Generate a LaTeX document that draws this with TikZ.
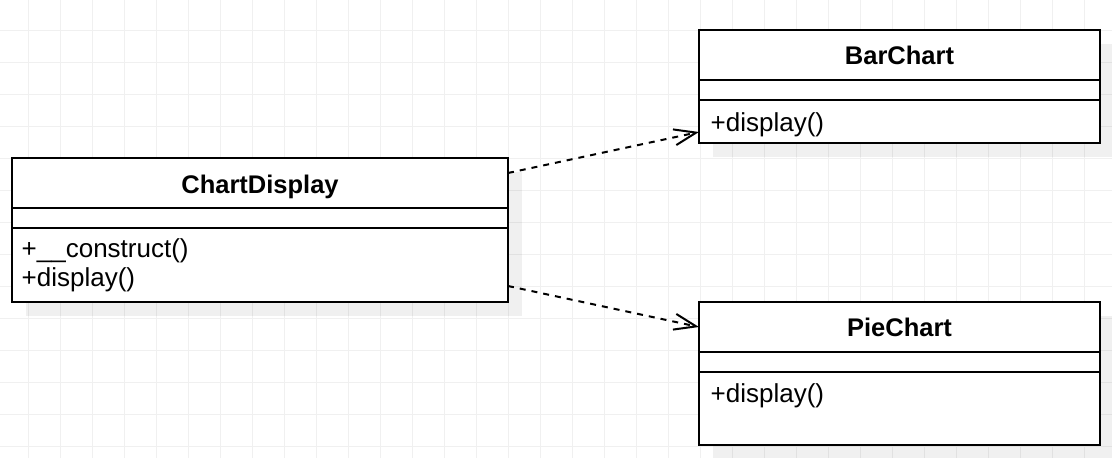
\documentclass[tikz,border=0pt]{standalone}
\usepackage{fontspec}
\setmainfont{Liberation Sans}
\usetikzlibrary{arrows.meta,shadows,calc}
\begin{document}
\begin{tikzpicture}[x=1pt,y=-1pt,
  gridline/.style={draw=black!6, line width=1pt},
  classbox/.style={draw=black, line width=2pt, fill=white, inner sep=0pt, outer sep=0pt, rectangle, anchor=north west,
    drop shadow={shadow xshift=14pt, shadow yshift=-14pt, fill=black, opacity=0.06}},
  sepline/.style={draw=black, line width=2pt},
  dep/.style={draw=black, line width=2pt, dash pattern=on 6pt off 6pt,
    -{Straight Barb[length=22pt,width=16pt,line width=2pt]}},
  title/.style={font=\fontsize{25.5}{30}\selectfont\bfseries, anchor=base, inner sep=0pt},
  member/.style={font=\fontsize{26}{30}\selectfont, anchor=base west, inner sep=0pt}
]
\useasboundingbox (0,0) rectangle (1112,458);
\fill[white] (0,0) rectangle (1112,458);
% grid
\foreach \gx in {0,...,33} \draw[gridline] (28.5+32*\gx,0) -- (28.5+32*\gx,458);
\foreach \gy in {0,...,13} \draw[gridline] (0,30.5+32*\gy) -- (1112,30.5+32*\gy);

% ChartDisplay
\node[classbox, minimum width=496pt, minimum height=144pt] (cd) at (12,158) {};
\draw[sepline] ($(cd.north west)+(0,50)$) -- ($(cd.north east)+(0,50)$);
\draw[sepline] ($(cd.north west)+(0,70)$) -- ($(cd.north east)+(0,70)$);
\node[title] (cdT) at (260,193) {ChartDisplay};
\node[member] (cdM1) at (21.5,257) {+\_\_construct()};
\node[member] (cdM2) at (21.5,286) {+display()};

% BarChart
\node[classbox, minimum width=401pt, minimum height=113pt] (bc) at (699,30) {};
\draw[sepline] ($(bc.north west)+(0,50)$) -- ($(bc.north east)+(0,50)$);
\draw[sepline] ($(bc.north west)+(0,70)$) -- ($(bc.north east)+(0,70)$);
\node[title] (bcT) at (899.5,64) {BarChart};
\node[member] (bcM1) at (710.5,131) {+display()};

% PieChart
\node[classbox, minimum width=401pt, minimum height=143pt] (pc) at (699,302) {};
\draw[sepline] ($(pc.north west)+(0,50)$) -- ($(pc.north east)+(0,50)$);
\draw[sepline] ($(pc.north west)+(0,70)$) -- ($(pc.north east)+(0,70)$);
\node[title] (pcT) at (899.5,336) {PieChart};
\node[member] (pcM1) at (710.5,402.5) {+display()};

% dependencies
\coordinate (a1s) at ($(cd.north east)+(0,15)$);
\coordinate (a1e) at ($(bc.north west)+(0,102)$);
\coordinate (a2s) at ($(cd.north east)+(0,128)$);
\coordinate (a2e) at ($(pc.north west)+(0,25)$);
\draw[dep] (a1s) -- (a1e);
\draw[dep] (a2s) -- (a2e);
\end{tikzpicture}
\end{document}
